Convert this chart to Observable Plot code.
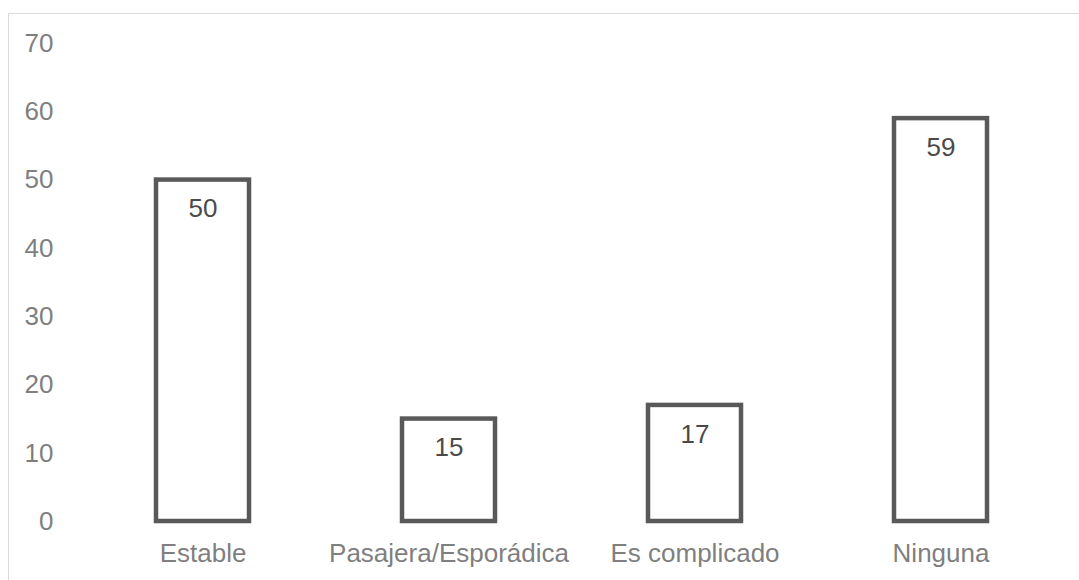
<!DOCTYPE html>
<html>
<head>
<meta charset="utf-8">
<script src="https://cdn.jsdelivr.net/npm/d3@7"></script>
<script src="https://cdn.jsdelivr.net/npm/@observablehq/plot@0.6"></script>
<style>
  html, body { margin: 0; padding: 0; background: #fff; overflow: hidden; }
  #wrap { position: relative; width: 1079px; height: 580px; }
  #frame { position: absolute; left: 8px; top: 13px; width: 1200px; height: 700px;
           border: 1px solid #d9d9d9; box-sizing: border-box; pointer-events: none; }
</style>
</head>
<body>
<div id="wrap"><div id="chart"></div><div id="frame"></div></div>
<script>
const categories = ["Estable", "Pasajera/Esporádica", "Es complicado", "Ninguna"];
const values = [50, 15, 17, 59];
const yTicks = [0, 10, 20, 30, 40, 50, 60, 70];

const data = categories.map((c, i) => ({category: c, value: values[i]}));

const chart = Plot.plot({
  width: 1079,
  height: 580,
  marginLeft: 78,
  marginRight: 14,
  marginTop: 43,
  marginBottom: 59,
  style: {fontFamily: "'Liberation Sans', Arial, sans-serif", background: "transparent"},
  x: {domain: categories, paddingInner: 0.62, paddingOuter: 0.31, label: null},
  y: {domain: [0, 70], ticks: yTicks, label: null},
  marks: [
    Plot.axisY({ticks: yTicks, tickSize: 0, tickPadding: 25, fontSize: 26, color: "#7f7f7f", label: null}),
    Plot.axisX({tickSize: 0, tickPadding: 22, fontSize: 26, color: "#7f7f7f", label: null}),
    Plot.barY(data, {x: "category", y: "value", fill: "white", stroke: "#595959", strokeWidth: 4.5, inset: 0}),
    Plot.text(data, {x: "category", y: "value", text: d => String(d.value), dy: 29, fontSize: 26, fill: "#4a4a4a"})
  ]
});
document.getElementById("chart").appendChild(chart);
</script>
</body>
</html>
